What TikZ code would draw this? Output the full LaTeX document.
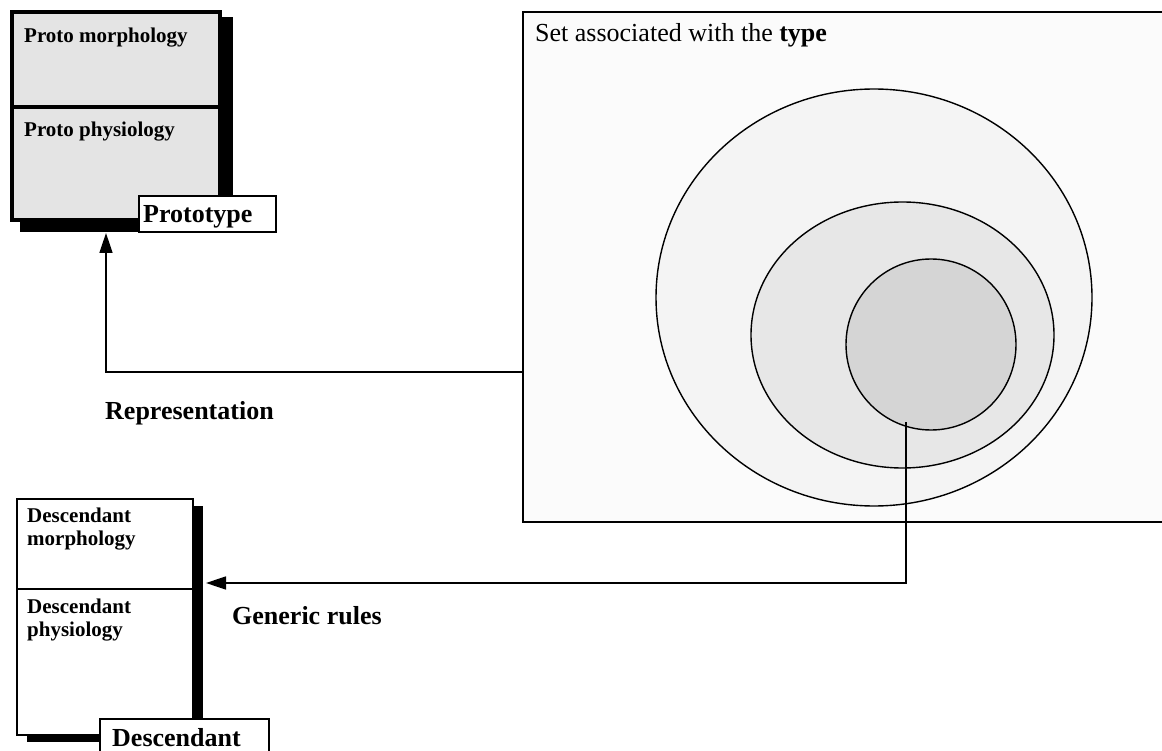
\documentclass[tikz,border=0pt]{standalone}
\usepackage{fontspec}
\setmainfont{Liberation Serif}
\usetikzlibrary{arrows.meta,shapes.geometric}
\definecolor{protofill}{HTML}{E4E4E4}
\definecolor{typefill}{HTML}{FBFBFB}
\definecolor{outerfill}{HTML}{F4F4F4}
\definecolor{middlefill}{HTML}{E7E7E7}
\definecolor{innerfill}{HTML}{D5D5D5}
\begin{document}
\begin{tikzpicture}[x=1pt,y=-1pt,
  small/.style={font=\fontsize{21}{23}\selectfont\bfseries, anchor=base west, inner sep=0pt},
  big/.style={font=\fontsize{26}{30}\selectfont\bfseries, anchor=base west, inner sep=0pt},
  thin/.style={line width=1.4pt},
  conn/.style={line width=1.6pt},
  arr/.style={conn, -{Triangle[length=20pt,width=13pt]}},
  box/.style={rectangle, anchor=north west, inner sep=0pt, outer sep=0pt},
  set/.style={ellipse, draw, thin, inner sep=0pt, outer sep=0pt},
]
\clip (0,0) rectangle (1162,751);
\fill[white] (0,0) rectangle (1162,751);

% prototype frame with its heavy shadow
\node[box, fill=black, minimum width=213pt, minimum height=215pt] (pshadow) at (20,17) {};
\node[box, draw, line width=4pt, fill=protofill, minimum width=208pt, minimum height=208pt] (proto) at (12,12) {};
\draw[line width=4pt] (proto.west |- 0,107) -- (proto.east |- 0,107);
\node[small] (pmorph) at (24,43) {Proto morphology};
\node[small] (pphys) at (24,137) {Proto physiology};
\node[box, draw, line width=2pt, fill=white, minimum width=137pt, minimum height=36pt] (plabel) at (139,196) {};
\node[big] (ptext) at (143,223) {Prototype};

% the set associated with the type
\node[box, draw, thin, fill=typefill, minimum width=650pt, minimum height=510pt] (typebox) at (523,12) {};
\node[anchor=base west, inner sep=0pt, font=\fontsize{26}{30}\selectfont] (typetext) at (535,42) {Set associated with the \textbf{type}};
\node[set, fill=outerfill, minimum width=436pt, minimum height=417pt] (outer) at (874,297.5) {};
\node[set, fill=middlefill, minimum width=303pt, minimum height=266pt] (middle) at (902.5,335) {};
\node[set, fill=innerfill, minimum width=170pt, minimum height=171pt] (inner) at (931,344.5) {};

% representation link
\coordinate (repin) at (523,372);
\coordinate (ptip) at (106,233);
\draw[arr] (repin) -| (ptip);
\node[big] (rep) at (105,419) {Representation};

% descendant frame (two-line texts are placed by their last baseline)
\node[box, fill=black, minimum width=176pt, minimum height=236pt] (dshadow) at (27,506) {};
\node[box, draw, thin, fill=white, minimum width=176pt, minimum height=236pt] (desc) at (17,499) {};
\draw[thin] (desc.west |- 0,589) -- (desc.east |- 0,589);
\node[small, align=left] (dmorph) at (27,545) {Descendant\\morphology};
\node[small, align=left] (dphys) at (27,636) {Descendant\\physiology};
\node[box, draw, thin, fill=white, minimum width=169pt, minimum height=50pt] (dlabel) at (100,719) {};
\node[big] (dtext) at (112,746) {Descendant};

% generic rules link
\coordinate (gstart) at (906,422);
\coordinate (gtip) at (206,583);
\draw[arr] (gstart) |- (gtip);
\node[big] (gen) at (232,624) {Generic rules};
\end{tikzpicture}
\end{document}
